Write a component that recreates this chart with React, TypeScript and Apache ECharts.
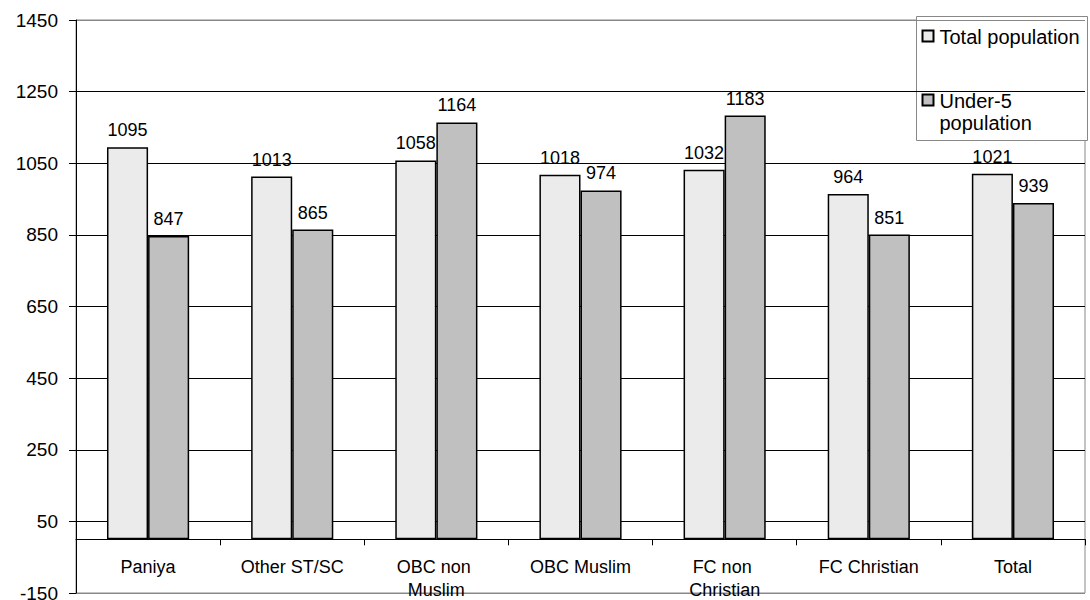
import React, { useEffect, useRef } from "react";
import * as echarts from "echarts";

// Sex ratio (females per 1000 males) by community group
const CATEGORIES = [
  "Paniya",
  "Other ST/SC",
  "OBC non Muslim",
  "OBC Muslim",
  "FC non Christian",
  "FC Christian",
  "Total",
];
const SERIES_NAMES = ["Total population", "Under-5 population"];
const TOTAL_POPULATION = [1095, 1013, 1058, 1018, 1032, 964, 1021];
const UNDER5_POPULATION = [847, 865, 1164, 974, 1183, 851, 939];
const SERIES_COLORS = ["#EBEBEB", "#C0C0C0"];

const Y_MIN = -150;
const Y_MAX = 1450;
const Y_STEP = 200;

const FONT = "'Liberation Sans', Arial, Helvetica, sans-serif";

const WIDTH = 1090;
const HEIGHT = 600;
const GRID = { left: 76, right: 5, top: 20, bottom: 7 };

export default function App() {
  const ref = useRef<HTMLDivElement>(null);

  useEffect(() => {
    if (!ref.current) return;
    const chart = echarts.init(ref.current, undefined, { renderer: "svg" });

    // one colour per horizontal grid line: outer frame lines grey, inner lines black
    const lineCount = Math.round((Y_MAX - Y_MIN) / Y_STEP) + 1;
    const splitColors = Array.from({ length: lineCount }, (_, i) =>
      i === 0 || i === lineCount - 1 ? "#888888" : "#000000"
    );

    // lift the category axis from the bottom edge up to the zero line
    const plotHeight = HEIGHT - GRID.top - GRID.bottom;
    const zeroOffset = -(plotHeight * (0 - Y_MIN)) / (Y_MAX - Y_MIN);

    const barSeries = [TOTAL_POPULATION, UNDER5_POPULATION].map((values, i) => ({
      name: SERIES_NAMES[i],
      type: "bar" as const,
      data: values,
      barGap: "0%",
      barCategoryGap: "43%",
      itemStyle: {
        color: SERIES_COLORS[i],
        borderColor: "#000000",
        borderWidth: 1.5,
      },
      label: {
        show: true,
        position: "top" as const,
        distance: 8,
        color: "#000000",
        fontFamily: FONT,
        fontSize: 18,
      },
    }));

    const legendFont = `20px ${FONT}`;

    chart.setOption({
      animation: false,
      backgroundColor: "#ffffff",
      grid: {
        ...GRID,
        containLabel: false,
        outerBoundsMode: "none",
        show: true,
        borderColor: "#888888",
        borderWidth: 1,
        backgroundColor: "transparent",
      },
      xAxis: {
        type: "category",
        data: CATEGORIES,
        position: "bottom",
        offset: zeroOffset,
        axisLine: { onZero: false, lineStyle: { color: "#000000", width: 1 } },
        axisTick: { show: true, length: 6, interval: 0, lineStyle: { color: "#000000" } },
        axisLabel: {
          interval: 0,
          margin: 16,
          color: "#000000",
          fontFamily: FONT,
          fontSize: 18,
          lineHeight: 23,
          width: 118,
          overflow: "break",
        },
        splitLine: { show: false },
      },
      yAxis: {
        type: "value",
        min: Y_MIN,
        max: Y_MAX,
        interval: Y_STEP,
        axisLine: { show: true, lineStyle: { color: "#000000", width: 1 } },
        axisTick: { show: true, length: 7, lineStyle: { color: "#000000" } },
        axisLabel: {
          margin: 18,
          color: "#000000",
          fontFamily: FONT,
          fontSize: 19,
          formatter: (v: number) => String(v),
        },
        splitLine: { show: true, lineStyle: { color: splitColors, width: 1 } },
      },
      series: barSeries,
      graphic: [
        {
          type: "group",
          left: 916,
          top: 16,
          z: 100,
          children: [
            {
              type: "rect",
              shape: { x: 0, y: 0, width: 171, height: 124 },
              style: { fill: "#ffffff", stroke: "#888888", lineWidth: 1 },
            },
            {
              type: "rect",
              shape: { x: 6, y: 14, width: 11, height: 11 },
              style: { fill: SERIES_COLORS[0], stroke: "#000000", lineWidth: 2 },
            },
            {
              type: "text",
              x: 23,
              y: 20,
              style: {
                text: SERIES_NAMES[0],
                font: legendFont,
                fill: "#000000",
                verticalAlign: "middle",
              },
            },
            {
              type: "rect",
              shape: { x: 6, y: 78, width: 11, height: 11 },
              style: { fill: SERIES_COLORS[1], stroke: "#000000", lineWidth: 2 },
            },
            {
              type: "text",
              x: 23,
              y: 84,
              style: {
                text: "Under-5",
                font: legendFont,
                fill: "#000000",
                verticalAlign: "middle",
              },
            },
            {
              type: "text",
              x: 23,
              y: 106,
              style: {
                text: "population",
                font: legendFont,
                fill: "#000000",
                verticalAlign: "middle",
              },
            },
          ],
        },
      ],
    });

    return () => chart.dispose();
  }, []);

  return (
    <div
      ref={ref}
      style={{ position: "fixed", left: 0, top: 0, width: WIDTH, height: HEIGHT }}
    />
  );
}
